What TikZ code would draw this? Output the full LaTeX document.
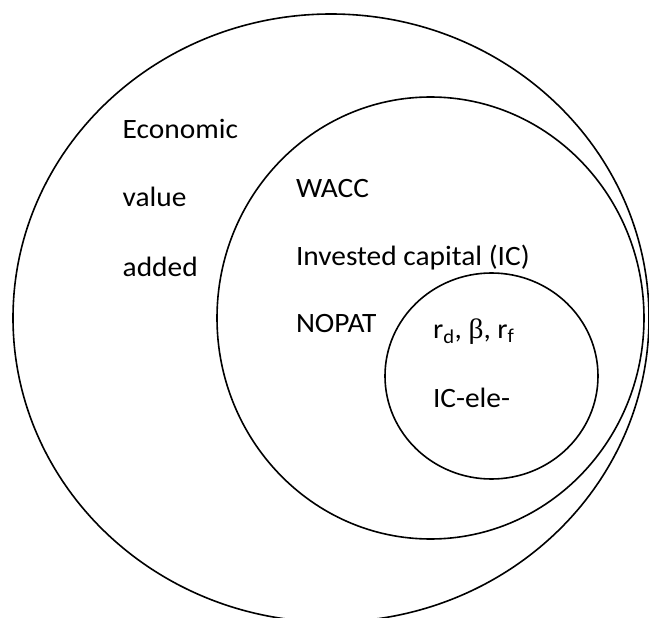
\documentclass[tikz,border=0pt]{standalone}
\usepackage{fontspec}
\setmainfont{Carlito}[FakeStretch=1.05]
\newfontfamily\greekserif{Liberation Serif}[FakeStretch=1.05]
\usetikzlibrary{shapes.geometric}
\begin{document}
\begin{tikzpicture}[x=1pt,y=-1pt,
  ring/.style={draw=black, line width=1.6pt, ellipse, inner sep=0pt, outer sep=0pt},
  lbl/.style={anchor=base west, inner sep=0pt, outer sep=0pt, font=\fontsize{28}{33}\selectfont}]
  \useasboundingbox[fill=white] (0,0) rectangle (649,618);

  % nested rings
  \node[ring, minimum width=636pt, minimum height=608pt] (eva) at (331,318) {};
  \node[ring, minimum width=427pt, minimum height=442pt] (inputs) at (430.5,318) {};
  \node[ring, minimum width=213pt, minimum height=206pt] (params) at (491.5,376) {};

  % outer ring labels
  \node[lbl] (econ) at (122.7,139) {Economic};
  \node[lbl] (value) at (122.7,207) {value};
  \node[lbl] (added) at (122.7,276) {added};

  % middle ring labels
  \node[lbl] (wacc) at (296,197) {WACC};
  \node[lbl] (ic) at (296,265) {Invested capital (IC)};
  \node[lbl] (nopat) at (296,332) {NOPAT};

  % inner ring labels
  \node[lbl] (rates) at (433,338) {r\textsubscript{d}, {\greekserif β}, r\textsubscript{f}};
  \node[lbl] (icele) at (433,407) {IC-ele-};
\end{tikzpicture}
\end{document}
